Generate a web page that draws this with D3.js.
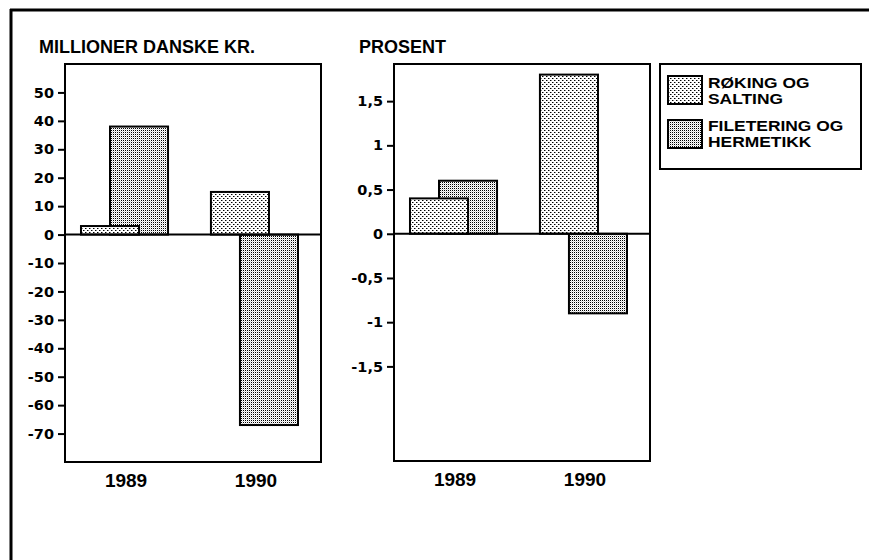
<!DOCTYPE html>
<html>
<head>
<meta charset="utf-8">
<script src="https://cdn.jsdelivr.net/npm/d3@7/dist/d3.min.js"></script>
<style>
  body { margin: 0; background: #fff; }
  svg { display: block; }
  text { fill: #000; }
</style>
</head>
<body>
<svg id="chart" width="869" height="560"></svg>
<script>
// Categories and series
const years = ["1989", "1990"];
const seriesLabels = [["RØKING OG", "SALTING"], ["FILETERING OG", "HERMETIKK"]];

// Left panel: millioner danske kroner
const kronerRoking = [3, 15];
const kronerFiletering = [38, -67];
const kronerTicks = [50, 40, 30, 20, 10, 0, -10, -20, -30, -40, -50, -60, -70];
const kronerDomain = [-80, 60];

// Right panel: prosent
const prosentRoking = [0.4, 1.8];
const prosentFiletering = [0.6, -0.9];
const prosentTicks = [1.5, 1, 0.5, 0, -0.5, -1, -1.5];
const prosentDomain = [-2.57, 1.92];

const svg = d3.select("#chart");
const defs = svg.append("defs");

// Coarse stipple for røking og salting
const pRok = defs.append("pattern").attr("id", "patRok")
  .attr("patternUnits", "userSpaceOnUse").attr("width", 4).attr("height", 4);
pRok.append("rect").attr("width", 4).attr("height", 4).attr("fill", "#fff");
[[0, 0], [2, 2]].forEach(([x, y]) => {
  pRok.append("rect").attr("x", x).attr("y", y).attr("width", 1).attr("height", 1).attr("fill", "#000");
  pRok.append("rect").attr("x", x + 1).attr("y", y).attr("width", 1).attr("height", 1).attr("fill", "#888");
});

// Fine stipple for filetering og hermetikk
const pFil = defs.append("pattern").attr("id", "patFil")
  .attr("patternUnits", "userSpaceOnUse").attr("width", 2).attr("height", 2);
pFil.append("rect").attr("width", 2).attr("height", 2).attr("fill", "#fff");
pFil.append("rect").attr("x", 0).attr("y", 0).attr("width", 1).attr("height", 1).attr("fill", "#000");
pFil.append("rect").attr("x", 1).attr("y", 1).attr("width", 1).attr("height", 1).attr("fill", "#d4d4d4");

const fills = ["url(#patRok)", "url(#patFil)"];
const titleFont = "'Liberation Sans', Arial, Helvetica, sans-serif";
const tickFont = "'DejaVu Sans', sans-serif";

// Outer frame (top and left edges)
svg.append("line").attr("x1", 10).attr("x2", 869).attr("y1", 10).attr("y2", 10)
  .attr("stroke", "#000").attr("stroke-width", 3);
svg.append("line").attr("x1", 11).attr("x2", 11).attr("y1", 9).attr("y2", 560)
  .attr("stroke", "#000").attr("stroke-width", 3);

// Tick labels use a plain hyphen and a decimal comma
const tickFmt = v => String(v).replace(".", ",");

function drawPanel(opts) {
  const { left, top, width, height, title, titleX, domain, ticks, roking, filetering } = opts;
  const g = svg.append("g").attr("transform", `translate(${left},${top})`);

  const x = d3.scaleBand().domain(years).range([0, width])
    .paddingInner(0.33).paddingOuter(0.15).align(0.41);
  const y = d3.scaleLinear().domain(domain).range([height, 0]);
  const bw = x.bandwidth();
  const barW = bw * 2 / 3;

  // Title above the panel
  svg.append("text").attr("x", titleX).attr("y", 53)
    .attr("font-family", titleFont).attr("font-weight", "bold").attr("font-size", 18)
    .text(title);

  // Bars: filetering behind, røking in front
  const series = [
    { vals: filetering, off: bw / 3, fill: fills[1] },
    { vals: roking, off: 0, fill: fills[0] }
  ];
  series.forEach(s => {
    g.selectAll(null).data(years.map((yr, i) => ({ yr, v: s.vals[i] }))).enter()
      .append("rect")
      .attr("x", d => x(d.yr) + s.off)
      .attr("y", d => y(Math.max(0, d.v)))
      .attr("width", barW)
      .attr("height", d => Math.abs(y(d.v) - y(0)))
      .attr("fill", s.fill)
      .attr("stroke", "#000").attr("stroke-width", 2);
  });

  // Zero line
  g.append("line").attr("x1", 0).attr("x2", width).attr("y1", y(0)).attr("y2", y(0))
    .attr("stroke", "#000").attr("stroke-width", 2);

  // Plot frame
  g.append("rect").attr("x", 0).attr("y", 0).attr("width", width).attr("height", height)
    .attr("fill", "none").attr("stroke", "#000").attr("stroke-width", 2);

  // Y axis
  const ax = g.append("g").call(d3.axisLeft(y).tickValues(ticks).tickSize(7).tickPadding(4).tickFormat(tickFmt));
  ax.select(".domain").remove();
  ax.selectAll(".tick line").attr("stroke", "#000").attr("stroke-width", 2);
  ax.selectAll(".tick text").attr("font-family", tickFont).attr("font-weight", "bold")
    .attr("font-size", 14.5).attr("fill", "#000");

  // X labels
  g.selectAll(null).data(years).enter().append("text")
    .attr("x", d => x(d) + bw / 2 + 1.5)
    .attr("y", height + 25)
    .attr("text-anchor", "middle")
    .attr("font-family", titleFont).attr("font-weight", "bold").attr("font-size", 19)
    .text(d => d);
}

drawPanel({
  left: 65, top: 64, width: 256, height: 398,
  title: "MILLIONER DANSKE KR.", titleX: 39,
  domain: kronerDomain, ticks: kronerTicks,
  roking: kronerRoking, filetering: kronerFiletering
});

drawPanel({
  left: 394, top: 64, width: 256, height: 397,
  title: "PROSENT", titleX: 359,
  domain: prosentDomain, ticks: prosentTicks,
  roking: prosentRoking, filetering: prosentFiletering
});

// Legend: swatch plus a two-line label per series
const lg = svg.append("g").attr("transform", "translate(660,64)");
lg.append("rect").attr("width", 201).attr("height", 105)
  .attr("fill", "#fff").attr("stroke", "#000").attr("stroke-width", 2);
const swatchTops = [12, 56];
const firstBaselines = [24, 67];
const lineGap = 16;
seriesLabels.forEach((lines, i) => {
  lg.append("rect").attr("x", 8).attr("y", swatchTops[i]).attr("width", 34).attr("height", 28)
    .attr("fill", fills[i]).attr("stroke", "#000").attr("stroke-width", 2);
  lines.forEach((t, j) => {
    lg.append("text")
      .attr("transform", `translate(48,${firstBaselines[i] + j * lineGap}) scale(1.16,1)`)
      .attr("font-family", titleFont).attr("font-weight", "bold").attr("font-size", 15)
      .text(t);
  });
});
</script>
</body>
</html>
